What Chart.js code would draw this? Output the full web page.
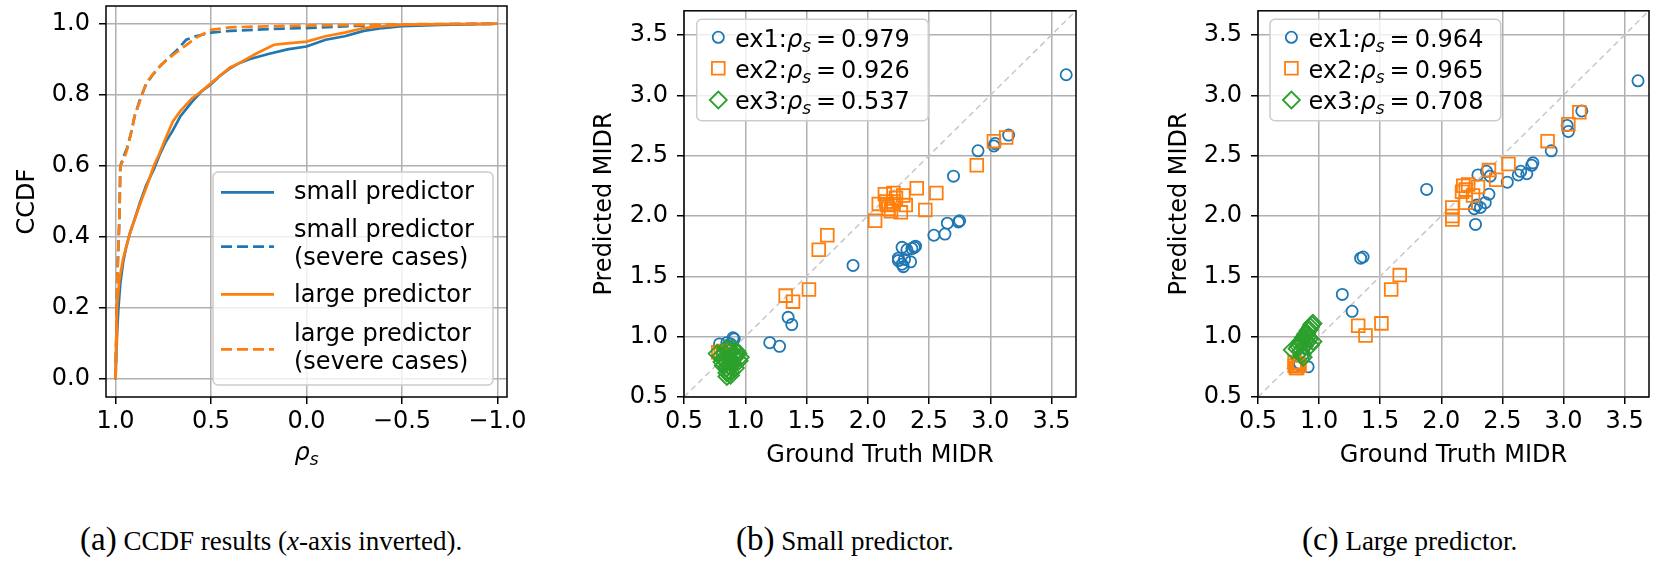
<!DOCTYPE html>
<html lang="en">
<head>
<meta charset="UTF-8">
<title>MIDR predictor results</title>
<script src="https://cdn.jsdelivr.net/npm/chart.js"></script>
<style>
  body { margin: 0; background: #fff; width: 1661px; height: 561px; position: relative; overflow: hidden; }
  canvas { position: absolute; top: 0; }
  .cap { position: absolute; top: 521px; font-family: "Liberation Serif", "Times New Roman", serif; font-size: 27px; line-height: 36px; white-space: nowrap; color: #000; }
  .cap span { font-size: 33px; }
</style>
</head>
<body>
<canvas id="ccdfChart" width="560" height="480" style="left:0"></canvas>
<canvas id="smallChart" width="560" height="480" style="left:540px"></canvas>
<canvas id="largeChart" width="561" height="480" style="left:1100px"></canvas>
<div class="cap" style="left:80px"><span>(a)</span> CCDF results (<i>x</i>-axis inverted).</div>
<div class="cap" style="left:736px"><span>(b)</span> Small predictor.</div>
<div class="cap" style="left:1302px"><span>(c)</span> Large predictor.</div>

<script>
    // (a) CCDF of rho_s, x axis inverted
    const rhoTicks = [1.0, 0.5, 0.0, -0.5, -1.0];
    const ccdfTicks = [0.0, 0.2, 0.4, 0.6, 0.8, 1.0];

    const smallRho = [1.0, 0.995, 0.985, 0.975, 0.96, 0.945, 0.925, 0.9, 0.87, 0.84, 0.8, 0.77, 0.74, 0.7, 0.66, 0.6, 0.55, 0.5, 0.45, 0.4, 0.35, 0.3, 0.2, 0.1, 0.0, -0.1, -0.2, -0.3, -0.4, -0.5, -0.7, -1.0];
    const smallCcdf = [0, 0.1, 0.2, 0.27, 0.33, 0.37, 0.41, 0.45, 0.5, 0.545, 0.59, 0.63, 0.665, 0.70, 0.74, 0.78, 0.81, 0.83, 0.855, 0.875, 0.89, 0.90, 0.915, 0.928, 0.936, 0.955, 0.965, 0.98, 0.988, 0.993, 0.997, 1.0];

    const smallSevRho = [1.0, 0.995, 0.99, 0.98, 0.975, 0.955, 0.94, 0.92, 0.9, 0.87, 0.84, 0.80, 0.76, 0.73, 0.68, 0.63, 0.58, 0.5, 0.4, 0.2, 0.0, -0.3, -0.6, -1.0];
    const smallSevCcdf = [0, 0.15, 0.3, 0.45, 0.6, 0.63, 0.65, 0.69, 0.74, 0.79, 0.83, 0.86, 0.885, 0.90, 0.925, 0.955, 0.965, 0.975, 0.98, 0.985, 0.988, 0.995, 0.998, 1.0];

    const largeRho = [1.0, 0.997, 0.993, 0.98, 0.96, 0.94, 0.92, 0.89, 0.86, 0.835, 0.80, 0.77, 0.74, 0.70, 0.66, 0.60, 0.55, 0.50, 0.45, 0.40, 0.35, 0.30, 0.26, 0.17, 0.10, 0.0, -0.1, -0.2, -0.3, -0.4, -0.5, -0.7, -1.0];
    const largeCcdf = [0, 0.1, 0.2, 0.28, 0.34, 0.38, 0.42, 0.465, 0.51, 0.545, 0.60, 0.635, 0.675, 0.725, 0.755, 0.79, 0.81, 0.833, 0.855, 0.877, 0.89, 0.905, 0.917, 0.941, 0.945, 0.950, 0.965, 0.975, 0.988, 0.993, 0.997, 0.999, 1.0];

    const largeSevRho = [1.0, 0.995, 0.99, 0.98, 0.975, 0.955, 0.94, 0.92, 0.9, 0.87, 0.84, 0.80, 0.76, 0.73, 0.68, 0.63, 0.58, 0.5, 0.4, 0.2, 0.0, -0.3, -0.6, -1.0];
    const largeSevCcdf = [0, 0.15, 0.3, 0.45, 0.6, 0.62, 0.645, 0.69, 0.74, 0.786, 0.833, 0.861, 0.885, 0.899, 0.92, 0.94, 0.96, 0.983, 0.99, 0.993, 0.995, 0.997, 0.999, 1.0];

    // (b) small predictor: ground truth vs predicted MIDR
    const midrTicks = [0.5, 1.0, 1.5, 2.0, 2.5, 3.0, 3.5];
    const diagLine = [0.5, 3.7];

    const smallEx1Truth = [3.62, 3.15, 3.03, 3.04, 2.90, 2.70, 2.75, 2.74, 2.65, 2.63, 2.54, 2.39, 2.36, 2.38, 2.28, 2.32, 2.25, 2.30, 2.35, 2.29, 2.28, 2.25, 1.88, 1.35, 1.38, 1.20, 1.28, 0.90, 0.91, 0.85, 0.79, 0.88, 0.86, 0.88];
    const smallEx1Pred = [3.17, 2.67, 2.58, 2.60, 2.54, 2.33, 1.96, 1.95, 1.94, 1.85, 1.84, 1.75, 1.73, 1.74, 1.74, 1.72, 1.65, 1.64, 1.62, 1.58, 1.60, 1.63, 1.59, 1.16, 1.10, 0.95, 0.92, 0.99, 0.98, 0.95, 0.94, 0.94, 0.92, 0.90];
    const smallEx2Truth = [3.13, 3.03, 2.89, 2.56, 2.40, 2.47, 2.06, 2.09, 2.14, 2.21, 2.21, 2.27, 2.29, 2.31, 2.16, 2.19, 2.15, 2.21, 2.23, 2.17, 1.67, 1.60, 1.33, 1.39, 1.52, 0.78, 0.80, 0.82];
    const smallEx2Pred = [2.65, 2.62, 2.42, 2.19, 2.23, 2.05, 1.96, 2.10, 2.18, 2.19, 2.12, 2.03, 2.17, 2.09, 2.09, 2.04, 2.12, 2.10, 2.15, 2.06, 1.84, 1.72, 1.34, 1.29, 1.39, 0.87, 0.85, 0.88];
    const smallEx3Truth = [0.77, 0.80, 0.82, 0.84, 0.85, 0.86, 0.85, 0.86, 0.85, 0.85, 0.88, 0.88, 0.90, 0.91, 0.92, 0.93, 0.90, 0.88, 0.83, 0.81, 0.87, 0.95, 0.96, 0.89, 0.84, 0.92, 0.82, 0.88, 0.94, 0.86];
    const smallEx3Pred = [0.86, 0.84, 0.82, 0.80, 0.78, 0.76, 0.74, 0.72, 0.70, 0.67, 0.71, 0.75, 0.78, 0.82, 0.85, 0.88, 0.90, 0.88, 0.86, 0.79, 0.83, 0.80, 0.83, 0.80, 0.90, 0.74, 0.76, 0.68, 0.86, 0.89];
    const smallRhoS = ['0.979', '0.926', '0.537'];

    // (c) large predictor
    const largeEx1Truth = [3.61, 3.15, 3.03, 3.04, 2.90, 2.75, 2.74, 2.70, 2.63, 2.65, 2.54, 2.40, 2.37, 2.30, 2.39, 2.36, 2.29, 2.27, 2.32, 2.28, 1.88, 1.36, 1.34, 1.19, 1.27, 0.91, 0.84, 0.87, 0.83];
    const largeEx1Pred = [3.12, 2.87, 2.75, 2.70, 2.54, 2.44, 2.42, 2.35, 2.34, 2.37, 2.28, 2.33, 2.37, 2.34, 2.18, 2.11, 2.09, 2.06, 2.07, 1.93, 2.22, 1.66, 1.65, 1.35, 1.21, 0.75, 0.78, 0.82, 0.77];
    const largeEx2Truth = [3.13, 3.04, 2.87, 2.55, 2.39, 2.45, 2.30, 2.18, 2.20, 2.26, 2.20, 2.17, 2.09, 2.09, 2.09, 2.22, 1.66, 1.59, 1.51, 1.32, 1.38, 0.80, 0.82, 0.84, 0.80, 0.83, 0.81];
    const largeEx2Pred = [2.86, 2.76, 2.62, 2.43, 2.38, 2.30, 2.24, 2.25, 2.22, 2.17, 2.11, 2.20, 2.07, 2.00, 1.97, 2.26, 1.51, 1.39, 1.11, 1.09, 1.01, 0.76, 0.74, 0.76, 0.79, 0.78, 0.74];
    const largeEx3Truth = [0.78, 0.82, 0.83, 0.84, 0.85, 0.86, 0.87, 0.88, 0.89, 0.90, 0.91, 0.92, 0.93, 0.94, 0.95, 0.90, 0.92, 0.93, 0.88, 0.86, 0.85, 0.87, 0.95, 0.91, 0.89];
    const largeEx3Pred = [0.89, 0.90, 0.92, 0.94, 0.96, 0.97, 0.99, 1.00, 1.02, 1.03, 1.05, 1.06, 1.08, 1.10, 1.11, 0.95, 0.98, 0.93, 0.92, 0.85, 0.88, 0.83, 0.96, 1.00, 0.97];
    const largeRhoS = ['0.964', '0.965', '0.708'];

    const BLUE = '#1f77b4', ORANGE = '#ff7f0e', GREEN = '#2ca02c';
    const FONT = '"DejaVu Sans"';
    Chart.defaults.font.family = FONT;
    Chart.defaults.font.size = 24;
    Chart.defaults.color = '#000';

    const pts = (xs, ys) => xs.map((x, i) => ({ x: x, y: ys[i] }));
    const fmt = v => v.toFixed(1).replace('-', '\u2212');

    function axis(o) {
        return {
            type: 'linear', min: o.min, max: o.max, reverse: !!o.reverse,
            afterBuildTicks: s => { s.ticks = o.ticks.map(v => ({ value: v })); },
            afterFit: s => {
                if (o.horizontal) s.height = o.size; else s.width = o.size;
                s.paddingLeft = s.paddingRight = s.paddingTop = s.paddingBottom = 0;
            },
            grid: { color: '#b0b0b0', lineWidth: 1.5, tickColor: '#000', tickLength: 7, tickWidth: 1.5 },
            border: { display: false },
            ticks: { padding: o.horizontal ? 3 : 9, autoSkip: false, maxRotation: 0, callback: v => fmt(v) },
            title: o.title ? { display: true, text: o.title, padding: o.titlePad } : { display: false }
        };
    }

    function roundBox(ctx, x, y, w, h, r) {
        ctx.beginPath();
        ctx.moveTo(x + r, y);
        ctx.arcTo(x + w, y, x + w, y + h, r);
        ctx.arcTo(x + w, y + h, x, y + h, r);
        ctx.arcTo(x, y + h, x, y, r);
        ctx.arcTo(x, y, x + w, y, r);
        ctx.closePath();
        ctx.fillStyle = 'rgba(255,255,255,0.8)';
        ctx.fill();
        ctx.strokeStyle = '#cccccc';
        ctx.lineWidth = 1.5;
        ctx.stroke();
    }

    // "prefix rho_s = value" with italic rho and subscript s
    function drawRho(ctx, x, y, prefix, value) {
        ctx.textAlign = 'left';
        ctx.textBaseline = 'alphabetic';
        ctx.fillStyle = '#000';
        ctx.font = '24px ' + FONT;
        ctx.fillText(prefix, x, y);
        x += ctx.measureText(prefix).width;
        ctx.font = 'italic 24px ' + FONT;
        ctx.fillText('\u03c1', x, y);
        x += ctx.measureText('\u03c1').width;
        ctx.font = 'italic 17px ' + FONT;
        ctx.fillText('s', x, y + 5);
        x += ctx.measureText('s').width;
        if (value === undefined) return;
        x += 5;
        ctx.font = '24px ' + FONT;
        ctx.fillText('=', x, y);
        x += ctx.measureText('=').width + 5;
        ctx.fillText(value, x, y);
    }

    function drawMarker(ctx, style, r, x, y, color) {
        ctx.strokeStyle = color;
        ctx.lineWidth = 1.8;
        ctx.beginPath();
        if (style === 'circle') {
            ctx.arc(x, y, r, 0, Math.PI * 2);
        } else if (style === 'rect') {
            const h = r * Math.SQRT1_2;
            ctx.rect(x - h, y - h, 2 * h, 2 * h);
        } else {
            ctx.moveTo(x - r, y); ctx.lineTo(x, y - r); ctx.lineTo(x + r, y); ctx.lineTo(x, y + r); ctx.closePath();
        }
        ctx.stroke();
    }

    // frame, in-plot legend and rho_s axis label
    const decor = {
        id: 'decor',
        afterDatasetsDraw(chart, args, opts) {
            const ctx = chart.ctx, a = chart.chartArea;
            ctx.save();
            ctx.strokeStyle = '#000';
            ctx.lineWidth = 1.5;
            ctx.strokeRect(a.left, a.top, a.right - a.left, a.bottom - a.top);
            if (opts.box) {
                const b = opts.box;
                roundBox(ctx, b.x, b.y, b.w, b.h, 5);
            }
            (opts.handles || []).forEach(h => {
                const ds = chart.data.datasets[h.ds];
                ctx.strokeStyle = ds.borderColor;
                ctx.lineWidth = ds.borderWidth;
                ctx.setLineDash(ds.borderDash || []);
                ctx.beginPath();
                ctx.moveTo(opts.hx[0], h.y);
                ctx.lineTo(opts.hx[1], h.y);
                ctx.stroke();
                ctx.setLineDash([]);
            });
            (opts.texts || []).forEach(t => {
                ctx.font = '24px ' + FONT;
                ctx.fillStyle = '#000';
                ctx.textAlign = 'left';
                ctx.textBaseline = 'alphabetic';
                ctx.fillText(t.t, t.x, t.y);
            });
            (opts.marks || []).forEach(m => {
                const ds = chart.data.datasets[m.ds];
                drawMarker(ctx, ds.pointStyle, ds.pointRadius, opts.mx, m.y, ds.borderColor);
                drawRho(ctx, opts.tx, m.y + 9.4, m.prefix, m.value);
            });
            if (opts.rhoTitle) {
                ctx.font = 'italic 24px ' + FONT;
                let w = ctx.measureText('\u03c1').width;
                ctx.font = 'italic 17px ' + FONT;
                w += ctx.measureText('s').width;
                drawRho(ctx, (a.left + a.right) / 2 - w / 2, opts.rhoTitle, '');
            }
            ctx.restore();
        }
    };

    const common = {
        responsive: false, animation: false, events: [],
        plugins: { legend: { display: false }, tooltip: { enabled: false } }
    };

    const lineSet = (label, xs, ys, color, dash, order) => ({
        label: label, data: pts(xs, ys), borderColor: color, backgroundColor: color,
        borderWidth: 2.7, borderDash: dash, pointRadius: 0, tension: 0, fill: false, order: order
    });

    new Chart(document.getElementById('ccdfChart'), {
        type: 'line',
        data: {
            datasets: [
                lineSet('small predictor', smallRho, smallCcdf, BLUE, [], 3),
                lineSet('small predictor (severe cases)', smallSevRho, smallSevCcdf, BLUE, [11, 5], 2),
                lineSet('large predictor', largeRho, largeCcdf, ORANGE, [], 1),
                lineSet('large predictor (severe cases)', largeSevRho, largeSevCcdf, ORANGE, [11, 5], 0)
            ]
        },
        options: Object.assign({}, common, {
            layout: { padding: { left: 0, top: 6, right: 53, bottom: 10 } },
            scales: {
                x: axis({ min: -1.05, max: 1.05, reverse: true, ticks: rhoTicks, size: 73, horizontal: true }),
                y: axis({ min: -0.05, max: 1.05, ticks: ccdfTicks, size: 106, title: 'CCDF', titlePad: { top: 13.6, bottom: 0 } })
            },
            plugins: Object.assign({}, common.plugins, {
                decor: {
                    box: { x: 213, y: 172, w: 280, h: 213 },
                    hx: [221, 274],
                    handles: [{ ds: 0, y: 192.3 }, { ds: 1, y: 246.7 }, { ds: 2, y: 294.3 }, { ds: 3, y: 349.3 }],
                    texts: [
                        { t: 'small predictor', x: 294, y: 199 },
                        { t: 'small predictor', x: 294, y: 237 },
                        { t: '(severe cases)', x: 294, y: 264.5 },
                        { t: 'large predictor', x: 294, y: 302 },
                        { t: 'large predictor', x: 294, y: 341 },
                        { t: '(severe cases)', x: 294, y: 368.5 }
                    ],
                    rhoTitle: 460
                }
            })
        }),
        plugins: [decor]
    });

    function scatterChart(id, e1x, e1y, e2x, e2y, e3x, e3y, rhos, yWidth, yTitlePad, rightPad, lg) {
        const dot = (label, xs, ys, color, style, r, order) => ({
            label: label, data: pts(xs, ys), pointStyle: style, pointRadius: r, pointBorderWidth: 1.8,
            borderColor: color, pointBorderColor: color, backgroundColor: 'rgba(0,0,0,0)',
            pointBackgroundColor: 'rgba(0,0,0,0)', order: order
        });
        new Chart(document.getElementById(id), {
            type: 'scatter',
            data: {
                datasets: [
                    dot('ex1', e1x, e1y, BLUE, 'circle', 5.6, 2),
                    dot('ex2', e2x, e2y, ORANGE, 'rect', 9, 1),
                    dot('ex3', e3x, e3y, GREEN, 'rectRot', 8.5, 0),
                    {
                        label: 'y = x', data: pts(diagLine, diagLine), showLine: true, pointRadius: 0,
                        borderColor: '#c8c8c8', borderWidth: 1.5, borderDash: [6, 4], order: 3
                    }
                ]
            },
            options: Object.assign({}, common, {
                layout: { padding: { left: 0, top: 6, right: rightPad, bottom: 10 } },
                scales: {
                    x: axis({ min: 0.5, max: 3.7, ticks: midrTicks, size: 73, horizontal: true, title: 'Ground Truth MIDR', titlePad: { top: 0, bottom: 0 } }),
                    y: axis({ min: 0.5, max: 3.7, ticks: midrTicks, size: yWidth, title: 'Predicted MIDR', titlePad: { top: yTitlePad, bottom: 0 } })
                },
                plugins: Object.assign({}, common.plugins, {
                    decor: {
                        box: lg.box, mx: lg.mx, tx: lg.tx,
                        marks: [
                            { ds: 0, y: 37.3, prefix: 'ex1:', value: rhos[0] },
                            { ds: 1, y: 68.3, prefix: 'ex2:', value: rhos[1] },
                            { ds: 2, y: 100, prefix: 'ex3:', value: rhos[2] }
                        ]
                    }
                })
            }),
            plugins: [decor]
        });
    }

    scatterChart('smallChart', smallEx1Truth, smallEx1Pred, smallEx2Truth, smallEx2Pred, smallEx3Truth, smallEx3Pred,
        smallRhoS, 144, 50.6, 24, { box: { x: 156.7, y: 19.3, w: 231.6, h: 101.4 }, mx: 178.3, tx: 195 });
    scatterChart('largeChart', largeEx1Truth, largeEx1Pred, largeEx2Truth, largeEx2Pred, largeEx3Truth, largeEx3Pred,
        largeRhoS, 158, 65.6, 12, { box: { x: 170, y: 19.3, w: 230.7, h: 101.4 }, mx: 191.4, tx: 208.6 });
</script>
</body>
</html>
